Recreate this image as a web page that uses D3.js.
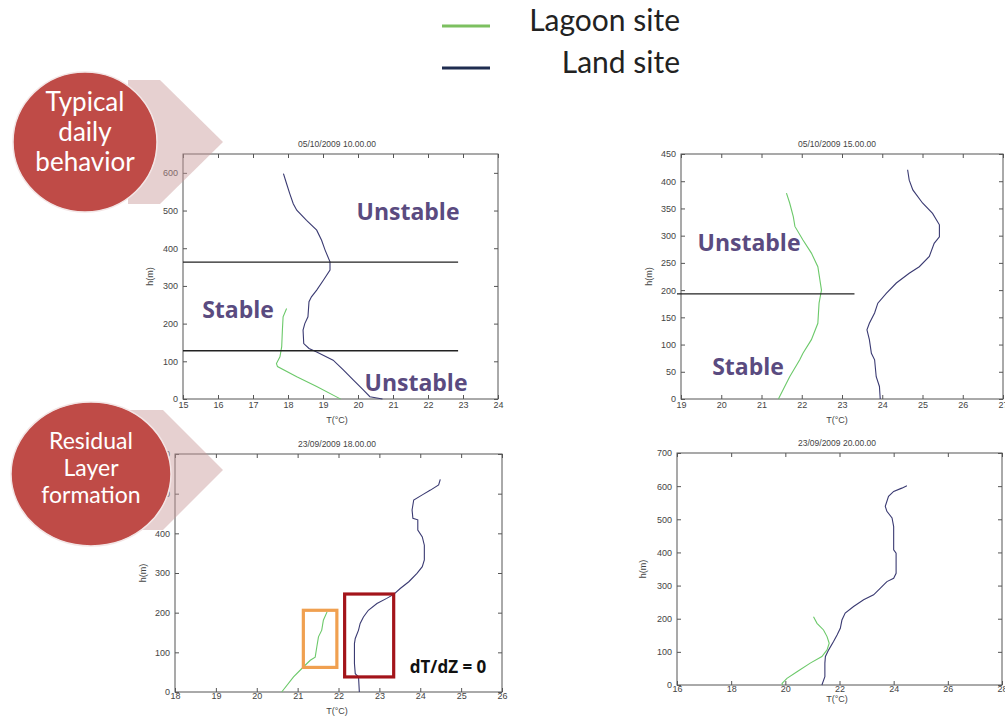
<!DOCTYPE html>
<html><head><meta charset="utf-8">
<script src="https://cdn.jsdelivr.net/npm/d3@7"></script>
<style>body{margin:0;background:#fff}svg{display:block}</style>
</head><body>
<svg id="c" width="1005" height="718"></svg>
<script>
// ---------- DATA ----------
const seriesNames = ["Lagoon site", "Land site"];
const panelTitles = ["05/10/2009 10.00.00", "05/10/2009 15.00.00", "23/09/2009 18.00.00", "23/09/2009 20.00.00"];
const xTicks1 = [15,16,17,18,19,20,21,22,23,24];
const yTicks1 = [0,100,200,300,400,500,600];
const xTicks2 = [19,20,21,22,23,24,25,26,27];
const yTicks2 = [0,50,100,150,200,250,300,350,400,450];
const xTicks3 = [18,19,20,21,22,23,24,25,26];
const yTicks3 = [0,100,200,300,400,500,600];
const xTicks4 = [16,18,20,22,24,26,28];
const yTicks4 = [0,100,200,300,400,500,600,700];

// [T (°C), h (m)]
const lagoon1 = [[19.5,0],[19.44,3],[18.82,33],[18.25,59],[17.7,86],[17.67,94],[17.77,112],[17.82,139],[17.84,183],[17.86,218],[17.96,240]];
const land1 = [[20.7,0],[20.34,6],[20.15,24],[19.87,50],[19.58,77],[19.29,103],[18.82,125],[18.6,134],[18.45,147],[18.43,183],[18.48,200],[18.57,218],[18.6,258],[18.67,271],[18.82,289],[19.01,315],[19.2,342],[19.2,364],[19.06,395],[18.96,421],[18.82,448],[18.53,474],[18.25,501],[18.15,518],[18.05,545],[17.96,571],[17.87,598]];
const lagoon2 = [[21.42,0],[21.7,41],[21.95,72],[22.03,84],[22.24,109],[22.4,139],[22.43,176],[22.49,200],[22.4,243],[22.24,268],[22.03,292],[21.83,317],[21.79,335],[21.7,360],[21.62,378]];
const land2 = [[23.95,0],[23.93,23],[23.85,41],[23.81,72],[23.73,84],[23.68,109],[23.62,127],[23.68,139],[23.81,158],[23.89,176],[24.1,194],[24.35,213],[24.67,231],[24.92,243],[25.17,262],[25.29,286],[25.42,298],[25.42,320],[25.25,341],[25.0,360],[24.76,384],[24.67,402],[24.63,421]];
const lagoon3 = [[20.61,0],[20.9,38],[21.14,63],[21.31,80],[21.43,88],[21.47,114],[21.51,139],[21.59,156],[21.63,181],[21.72,202]];
const land3 = [[22.51,0],[22.49,38],[22.41,46],[22.39,72],[22.39,122],[22.41,135],[22.49,156],[22.53,173],[22.61,189],[22.73,206],[22.94,223],[23.18,236],[23.35,246],[23.51,261],[23.72,278],[23.92,299],[24.05,316],[24.1,333],[24.1,370],[24.05,391],[23.94,408],[23.94,434],[23.82,438],[23.8,459],[23.84,484],[24.05,497],[24.25,509],[24.45,522],[24.49,536]];
const lagoon4 = [[19.9,0],[19.88,5],[20.06,20],[20.43,40],[20.92,66],[21.35,86],[21.54,106],[21.62,126],[21.54,146],[21.41,166],[21.17,186],[21.04,206]];
const land4 = [[21.35,0],[21.46,25],[21.46,66],[21.48,86],[21.6,106],[21.78,131],[21.91,151],[22.03,171],[22.09,196],[22.21,217],[22.52,237],[22.89,257],[23.26,272],[23.51,292],[23.75,312],[24.0,322],[24.09,337],[24.09,398],[24.0,408],[24.0,478],[23.94,504],[23.75,524],[23.69,539],[23.81,569],[24.0,584],[24.3,594],[24.49,601]];

// layer boundaries (h, m) and boxes
const boundaries1 = [363, 128];
const boundaries2 = [193];
const orangeBox = {T:[21.14,21.96], h:[62,206]};
const redBox = {T:[22.15,23.35], h:[38,247]};

// ---------- LAYOUT ----------
const svg = d3.select("#c");
const GREEN = "#6cc96a", NAVY = "#3a3a72", LABEL = "#5a4b80";
const AXF = "Liberation Sans, Arial, sans-serif";

const panels = [
  {box:[183,154,498,399], xd:[15,24], yd:[0,650], xt:xTicks1, yt:yTicks1, lag:lagoon1, land:land1, title:panelTitles[0], cx:337, tickOff:3, xlabY:420, ylabX:153},
  {box:[681,154,1003,399], xd:[19,27], yd:[0,450], xt:xTicks2, yt:yTicks2, lag:lagoon2, land:land2, title:panelTitles[1], cx:837, tickOff:3, xlabY:420, ylabX:652},
  {box:[175,454,502,692], xd:[18,26], yd:[0,600], xt:xTicks3, yt:yTicks3, lag:lagoon3, land:land3, title:panelTitles[2], cx:337, tickOff:1, xlabY:711, ylabX:146},
  {box:[677,453,1002,685], xd:[16,28], yd:[0,700], xt:xTicks4, yt:yTicks4, lag:lagoon4, land:land4, title:panelTitles[3], cx:837, tickOff:1, xlabY:699, ylabX:646}
];

panels.forEach((p,i) => {
  const [l,t,r,b] = p.box;
  const x = d3.scaleLinear().domain(p.xd).range([l,r]);
  const y = d3.scaleLinear().domain(p.yd).range([b,t]);
  p.x = x; p.y = y;
  const g = svg.append("g");
  g.append("rect").attr("x",l).attr("y",t).attr("width",r-l).attr("height",b-t)
    .attr("fill","none").attr("stroke","#555").attr("stroke-width",1);
  const tk = 4;
  const axB = d3.axisBottom(x).tickValues(p.xt).tickSize(-tk).tickFormat(d3.format("d"));
  const axT = d3.axisTop(x).tickValues(p.xt).tickSize(-tk).tickFormat("");
  const axL = d3.axisLeft(y).tickValues(p.yt).tickSize(-tk).tickFormat(d3.format("d"));
  const axR = d3.axisRight(y).tickValues(p.yt).tickSize(-tk).tickFormat("");
  const style = s => { s.select(".domain").remove(); s.selectAll("line").attr("stroke","#555");
    s.selectAll("text").attr("fill","#444").style("font-family",AXF).style("font-size","9px"); };
  g.append("g").attr("transform",`translate(0,${b})`).call(axB).call(style).selectAll("text").attr("y",p.tickOff).attr("dy","0.71em");
  g.append("g").attr("transform",`translate(0,${t})`).call(axT).call(style);
  g.append("g").attr("transform",`translate(${l},0)`).call(axL).call(style).selectAll("text").attr("x",-5);
  g.append("g").attr("transform",`translate(${r},0)`).call(axR).call(style);
  g.append("text").attr("x",p.cx).attr("y",t-7)
    .attr("text-anchor","middle").attr("fill","#444").style("font-family",AXF).style("font-size","8.5px").text(p.title);
  g.append("text").attr("x",p.cx).attr("y",p.xlabY).attr("dy","0.35em")
    .attr("text-anchor","middle").attr("fill","#444").style("font-family",AXF).style("font-size","9px").text("T(°C)");
  g.append("text").attr("transform",`translate(${p.ylabX},${(t+b)/2}) rotate(-90)`)
    .attr("text-anchor","middle").attr("fill","#444").style("font-family",AXF).style("font-size","9px").text("h(m)");
  const line = d3.line().x(d=>x(d[0])).y(d=>y(d[1]));
  g.append("path").datum(p.lag).attr("d",line).attr("fill","none").attr("stroke",GREEN).attr("stroke-width",1.1);
  g.append("path").datum(p.land).attr("d",line).attr("fill","none").attr("stroke",NAVY).attr("stroke-width",1.1);
});

const P1 = panels[0], P2 = panels[1], P3 = panels[2];
boundaries1.forEach(h => svg.append("line").attr("x1",P1.x(15)).attr("x2",P1.x(22.86)).attr("y1",P1.y(h)).attr("y2",P1.y(h)).attr("stroke","#222").attr("stroke-width",1.3));
boundaries2.forEach(h => svg.append("line").attr("x1",P2.x(18.9)).attr("x2",P2.x(23.31)).attr("y1",P2.y(h)).attr("y2",P2.y(h)).attr("stroke","#222").attr("stroke-width",1.3));

[[orangeBox,"#f0a050"],[redBox,"#a3141a"]].forEach(([bx,c]) => {
  svg.append("rect").attr("x",P3.x(bx.T[0])).attr("y",P3.y(bx.h[1]))
    .attr("width",P3.x(bx.T[1])-P3.x(bx.T[0])).attr("height",P3.y(bx.h[0])-P3.y(bx.h[1]))
    .attr("fill","none").attr("stroke",c).attr("stroke-width",3.2);
});

const ann = [["Unstable",408,212],["Stable",238,310],["Unstable",416,383],["Unstable",749,243],["Stable",748,367]];
ann.forEach(([s,ax,ay]) => svg.append("text").attr("x",ax).attr("y",ay).attr("dy","0.35em").attr("text-anchor","middle")
  .attr("fill",LABEL).style("font-family","Open Sans, sans-serif").style("font-weight","700").style("font-size","23px").text(s));
svg.append("text").attr("x",448).attr("y",667).attr("dy","0.35em").attr("text-anchor","middle").attr("fill","#111")
  .style("font-family","Open Sans, sans-serif").style("font-weight","700").style("font-size","17px").text("dT/dZ = 0");

const arrows = [[[128,80],[160,80],[223,142],[160,204],[128,204]], [[128,410],[163,410],[223,470],[163,530],[128,530]]];
arrows.forEach(a => svg.append("polygon").attr("points",a.map(q=>q.join(",")).join(" ")).attr("fill","rgb(200,150,150)").attr("opacity",0.45));
const circles = [{cx:85,cy:142,rx:72,ry:70,ty:132,sp:30,fs:26,lines:["Typical","daily","behavior"]},{cx:91,cy:474,rx:80,ry:72,ty:468,sp:27,fs:23,lines:["Residual","Layer","formation"]}];
circles.forEach(c => {
  svg.append("ellipse").attr("cx",c.cx).attr("cy",c.cy).attr("rx",c.rx).attr("ry",c.ry).attr("fill","#bf4b47").attr("stroke","#f3e6e6").attr("stroke-width",1.5);
  c.lines.forEach((s,k) => svg.append("text").attr("x",c.cx).attr("y",c.ty+(k-1)*c.sp).attr("dy","0.35em").attr("text-anchor","middle")
    .attr("fill","#fff").style("font-family","Lato, sans-serif").style("font-size",c.fs+"px").text(s));
});

[[26,"#7cc060"],[68,"#1f2d50"]].forEach(([ly,c]) => svg.append("line").attr("x1",442).attr("x2",490).attr("y1",ly).attr("y2",ly).attr("stroke",c).attr("stroke-width",3));
svg.append("text").attr("x",680).attr("y",20).attr("dy","0.35em").attr("text-anchor","end").attr("fill","#222").style("font-family","Lato, sans-serif").style("font-size","30px").text(seriesNames[0]);
svg.append("text").attr("x",680).attr("y",62).attr("dy","0.35em").attr("text-anchor","end").attr("fill","#222").style("font-family","Lato, sans-serif").style("font-size","30px").text(seriesNames[1]);
</script>
</body></html>
